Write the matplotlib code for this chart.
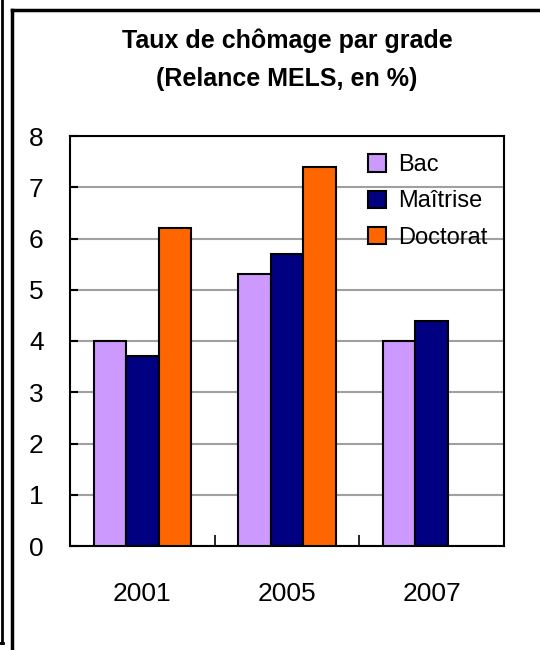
import matplotlib
matplotlib.use("Agg")
import matplotlib.pyplot as plt
import numpy as np
from matplotlib.patches import Patch
from matplotlib.lines import Line2D

years = ["2001", "2005", "2007"]
series = ["Bac", "Maîtrise", "Doctorat"]
bac = [4.0, 5.3, 4.0]
maitrise = [3.7, 5.7, 4.4]
doctorat = [6.2, 7.4, np.nan]
colors = ["#CC99FF", "#000080", "#FF6600"]
title = "Taux de chômage par grade\n(Relance MELS, en %)"

plt.rcParams['font.family'] = ['Liberation Sans', 'DejaVu Sans']

W, H = 540, 650
fig = plt.figure(figsize=(W / 100, H / 100), dpi=100)
ax = fig.add_axes([70 / W, 1 - 546 / H, (504 - 70) / W, (546 - 136) / H])

x = np.arange(len(years))
bw = 0.225
for i, (vals, c) in enumerate(zip([bac, maitrise, doctorat], colors)):
    v = np.array(vals, dtype=float)
    mask = ~np.isnan(v)
    ax.bar(x[mask] + (i - 1) * bw, v[mask], width=bw, color=c,
           edgecolor="black", linewidth=1.5, zorder=3)

ax.set_xlim(-0.5, 2.5)
ax.set_ylim(0, 8)
ax.set_yticks(range(0, 9))
ax.yaxis.grid(True, color="#A0A0A0", linewidth=1.5, zorder=0)
ax.set_axisbelow(True)
ax.tick_params(axis="y", direction="in", length=6, width=1.5, labelsize=19, pad=19)
ax.set_xticks(x)
ax.set_xticklabels(years)
ax.tick_params(axis="x", which="major", length=0, labelsize=19, pad=26)
ax.set_xticks([0.5, 1.5], minor=True)
ax.tick_params(axis="x", which="minor", direction="in", length=8, width=1.2)
for s in ax.spines.values():
    s.set_linewidth(1.5)
    s.set_color("black")

handles = [Patch(facecolor=c, edgecolor="black", linewidth=1.5, label=s)
           for s, c in zip(series, colors)]
ax.legend(handles=handles, loc="upper left", bbox_to_anchor=(284 / 434, 0.99),
          frameon=False, fontsize=17, handlelength=0.75, handleheight=0.75,
          handletextpad=0.5, labelspacing=0.6, borderaxespad=0.2)

fig.text(287 / W, 1 - 60 / H, title, ha="center", va="center",
         fontsize=18, fontweight="bold", linespacing=1.75)

# page frames
fig.add_artist(Line2D([2 / W, 2 / W], [1, 1 - 643 / H], transform=fig.transFigure,
                      color="black", linewidth=2))
fig.add_artist(Line2D([0, 3 / W], [1 - 643 / H, 1 - 643 / H], transform=fig.transFigure,
                      color="black", linewidth=2))
fig.add_artist(Line2D([12 / W, 12 / W], [0, 1 - 10 / H], transform=fig.transFigure,
                      color="black", linewidth=2.5))
fig.add_artist(Line2D([12 / W, 1], [1 - 10 / H, 1 - 10 / H], transform=fig.transFigure,
                      color="black", linewidth=2.5))

fig.savefig("out.png", dpi=100)
